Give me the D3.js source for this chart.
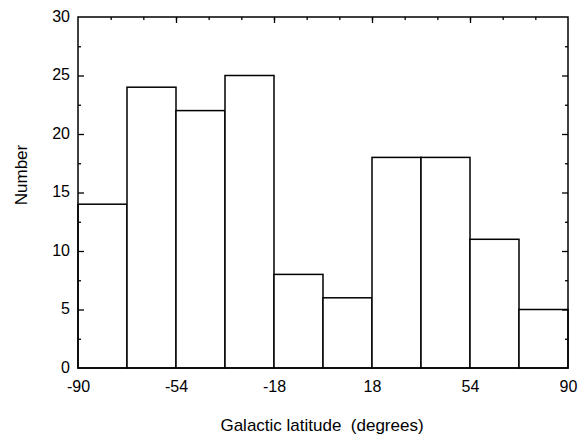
<!DOCTYPE html>
<html>
<head>
<meta charset="utf-8">
<script src="https://cdn.jsdelivr.net/npm/d3@7"></script>
<style>
  body { margin: 0; background: #fff; }
  text { font-family: "Liberation Sans", Arial, sans-serif; fill: #000; }
</style>
</head>
<body>
<div id="chart"></div>
<script>
// histogram data: bin edges (degrees) and counts
var binEdges = [-90, -72, -54, -36, -18, 0, 18, 36, 54, 72, 90]
var counts = [14, 24, 22, 25, 8, 6, 18, 18, 11, 5]
var xTickLabels = [-90, -54, -18, 18, 54, 90]
var yTickLabels = [0, 5, 10, 15, 20, 25, 30]

var w = 580
var h = 444
var plotLeft = 78, plotRight = 568, plotTop = 17, plotBottom = 368

var svg = d3.select("#chart")
    .append("svg")
    .attr("width", w)
    .attr("height", h)

var x = d3.scaleLinear().domain([-90, 90]).range([plotLeft, plotRight])
var y = d3.scaleLinear().domain([0, 30]).range([plotBottom, plotTop])

//bars
var bins = counts.map(function(c, i){
    return {x0: binEdges[i], x1: binEdges[i+1], n: c}
})

svg.selectAll(".bar")
    .data(bins)
    .enter()
    .append("rect")
    .attr("class", "bar")
    .attr("x", function(d){ return x(d.x0) })
    .attr("y", function(d){ return y(d.n) })
    .attr("width", function(d){ return x(d.x1) - x(d.x0) })
    .attr("height", function(d){ return y(0) - y(d.n) })
    .attr("fill", "white")
    .attr("stroke", "black")
    .attr("stroke-width", 1.5)

//frame
svg.append("rect")
    .attr("x", plotLeft)
    .attr("y", plotTop)
    .attr("width", plotRight - plotLeft)
    .attr("height", plotBottom - plotTop)
    .attr("fill", "none")
    .attr("stroke", "black")
    .attr("stroke-width", 1.5)

//bottom labels only (plain hyphen minus like the original)
var xAxis = svg.append("g")
    .attr("transform", "translate(0," + plotBottom + ")")
    .call(d3.axisBottom(x).tickValues(xTickLabels).tickSize(0).tickPadding(13).tickFormat(function(d){ return String(d) }))
xAxis.select(".domain").remove()
xAxis.selectAll("text").style("font-size", "16px").style("font-family", "Liberation Sans, Arial, sans-serif")

//top ticks, every 12 degrees, longer every 36
var topMinor = d3.range(-78, 90, 12)
svg.append("g")
    .attr("transform", "translate(0," + plotTop + ")")
    .call(d3.axisBottom(x).tickValues(topMinor).tickSize(3).tickFormat(""))
    .call(function(g){ g.select(".domain").remove() })
svg.append("g")
    .attr("transform", "translate(0," + plotTop + ")")
    .call(d3.axisBottom(x).tickValues([-54, -18, 18, 54]).tickSize(6).tickFormat(""))
    .call(function(g){ g.select(".domain").remove() })

//left axis labels
var yAxis = svg.append("g")
    .attr("transform", "translate(" + plotLeft + ",0)")
    .call(d3.axisLeft(y).tickValues(yTickLabels).tickSize(0).tickPadding(8))
yAxis.select(".domain").remove()
yAxis.selectAll("text").style("font-size", "16px").style("font-family", "Liberation Sans, Arial, sans-serif")
    .attr("dy", "0.25em")

//inward y ticks on both sides
var yMinor = d3.range(2.5, 30, 5)
var yMajor = d3.range(5, 30, 5)
function yTicks(g, side){
    var xpos = side == "left" ? plotLeft : plotRight
    var axis = side == "left" ? d3.axisRight : d3.axisLeft
    g.append("g")
        .attr("transform", "translate(" + xpos + ",0)")
        .call(axis(y).tickValues(yMajor).tickSize(6).tickFormat(""))
        .call(function(s){ s.select(".domain").remove() })
    g.append("g")
        .attr("transform", "translate(" + xpos + ",0)")
        .call(axis(y).tickValues(yMinor).tickSize(3).tickFormat(""))
        .call(function(s){ s.select(".domain").remove() })
}
yTicks(svg, "left")
yTicks(svg, "right")

svg.selectAll(".tick line").attr("stroke-width", 1.3)

//titles
svg.append("text")
    .attr("x", 322)
    .attr("y", 431)
    .attr("text-anchor", "middle")
    .attr("xml:space", "preserve")
    .style("font-size", "17px")
    .text("Galactic latitude  (degrees)")

svg.append("text")
    .attr("transform", "translate(27,175) rotate(-90)")
    .attr("text-anchor", "middle")
    .style("font-size", "17px")
    .text("Number")
</script>
</body>
</html>
